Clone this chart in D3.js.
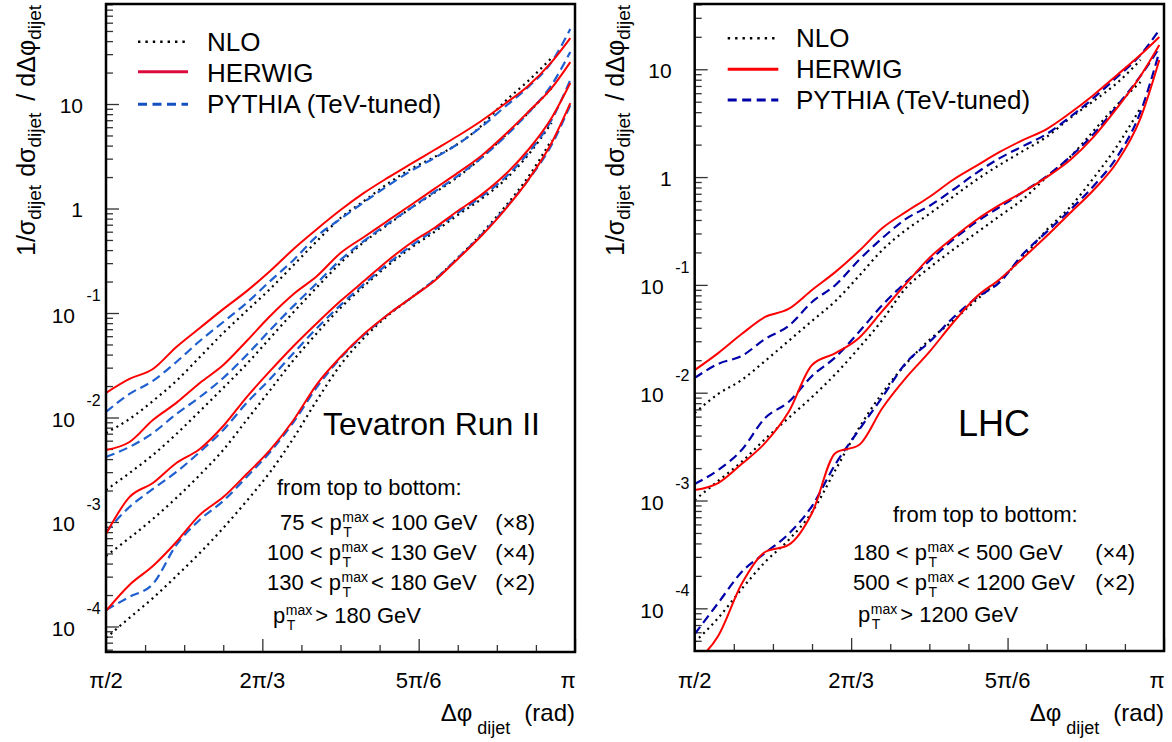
<!DOCTYPE html>
<html><head><meta charset="utf-8">
<script src="https://cdn.jsdelivr.net/npm/d3@7"></script>
<style>
body{margin:0;background:#fff}
svg{display:block}
text{font-family:"Liberation Sans",Arial,Helvetica,sans-serif;fill:#000}
</style>
</head><body>
<svg id="c" width="1172" height="742"></svg>
<script>
// ---------------- DATA ----------------
// Δφ_dijet sample points, in units of π
const phi = [0.5,0.525,0.55,0.575,0.6,0.625,0.65,0.675,0.7,0.725,0.75,0.775,0.8,0.825,0.85,0.875,0.9,0.925,0.95,0.975,0.995];
const phiNLO = [0.5,0.525,0.55,0.575,0.6,0.625,0.65,0.675,0.7,0.725,0.75,0.775,0.8,0.825,0.85,0.875,0.9,0.925,0.95,0.975];

// Tevatron Run II
const tevHerwig75 = [0.0172,0.0234,0.0291,0.0473,0.0719,0.109,0.162,0.252,0.410,0.637,0.967,1.41,1.96,2.67,3.63,4.94,6.88,10.0,14.9,25.2,42.8];
const tevPythia75 = [0.0113,0.0168,0.0224,0.0340,0.0540,0.0820,0.125,0.202,0.322,0.546,0.794,1.15,1.64,2.29,3.04,4.14,6.03,9.36,14.5,25.2,52.2];
const tevNLO75    = [0.00711,0.00967,0.0144,0.0224,0.0379,0.0644,0.105,0.170,0.288,0.489,0.811,1.18,1.72,2.39,3.11,4.14,6.16,10.5,16.6,27.6];

const tevHerwig100 = [0.00489,0.00583,0.00947,0.0138,0.0214,0.0318,0.0540,0.0936,0.152,0.226,0.375,0.534,0.759,1.08,1.54,2.19,3.18,5.05,8.38,14.2,25.2];
const tevPythia100 = [0.00419,0.00522,0.00711,0.0108,0.0157,0.0239,0.0396,0.0688,0.117,0.194,0.322,0.489,0.711,1.01,1.44,2.05,3.04,4.83,8.20,15.2,31.5];
const tevNLO100    = [0.00202,0.00294,0.00438,0.00695,0.0115,0.0192,0.0325,0.0577,0.102,0.177,0.301,0.478,0.695,1.01,1.41,2.00,3.04,4.94,8.20,14.2];

const tevHerwig130 = [7.68e-4,1.73e-3,2.36e-3,3.67e-3,5.00e-3,8.29e-3,0.0157,0.0279,0.0483,0.0802,0.130,0.202,0.315,0.468,0.651,0.946,1.35,2.09,3.63,7.35,15.9];
const tevPythia130 = [8.02e-4,1.39e-3,2.07e-3,3.01e-3,4.68e-3,7.59e-3,0.0138,0.0234,0.0414,0.0719,0.119,0.189,0.294,0.438,0.623,0.906,1.29,1.96,3.40,7.03,17.0];
const tevNLO130    = [4.73e-4,7.03e-4,1.07e-3,1.70e-3,2.82e-3,4.89e-3,9.47e-3,0.0183,0.0355,0.0644,0.112,0.181,0.282,0.419,0.596,0.867,1.23,1.87,3.25,6.58];

const tevHerwig180 = [1.41e-4,2.50e-4,3.79e-4,6.44e-4,1.17e-3,1.73e-3,2.88e-3,4.89e-3,9.47e-3,0.0209,0.0379,0.0629,0.0957,0.139,0.202,0.329,0.546,0.967,1.87,4.24,10.2];
const tevPythia180 = [1.44e-4,1.92e-4,2.55e-4,6.03e-4,1.05e-3,1.59e-3,2.70e-3,4.68e-3,9.06e-3,0.0196,0.0371,0.0616,0.0957,0.139,0.207,0.336,0.558,0.989,1.87,4.05,9.78];
const tevNLO180    = [7.76e-5,1.21e-4,1.87e-4,3.04e-4,5.05e-4,8.76e-4,1.59e-3,3.01e-3,6.37e-3,0.0147,0.0318,0.0577,0.0936,0.139,0.207,0.336,0.570,1.03,2.00,4.52];

// LHC
const lhcHerwig180 = [0.0162,0.0233,0.0350,0.0504,0.0598,0.0897,0.132,0.206,0.337,0.475,0.654,0.940,1.27,1.71,2.21,2.79,3.93,5.78,8.85,13.6,19.9];
const lhcPythia180 = [0.0137,0.0185,0.0219,0.0315,0.0416,0.0694,0.0998,0.170,0.272,0.409,0.539,0.759,1.09,1.50,1.94,2.51,3.61,5.42,8.48,13.6,23.2];
const lhcNLO180    = [0.00648,0.00973,0.0131,0.0197,0.0302,0.0463,0.0709,0.121,0.211,0.323,0.455,0.654,0.940,1.30,1.75,2.36,3.53,5.08,7.46,12.2];

const lhcHerwig500 = [1.25e-3,1.45e-3,2.18e-3,3.42e-3,6.62e-3,0.0181,0.0233,0.0322,0.0573,0.102,0.178,0.272,0.400,0.551,0.728,1.00,1.44,2.36,4.38,8.67,16.8];
const lhcPythia500 = [1.42e-3,1.92e-3,2.94e-3,5.83e-3,8.20e-3,0.0143,0.0214,0.0366,0.0651,0.106,0.167,0.261,0.383,0.528,0.728,1.02,1.54,2.51,4.57,8.67,15.8];
const lhcNLO500    = [1.01e-3,1.52e-3,2.28e-3,3.72e-3,5.83e-3,9.12e-3,0.0149,0.0260,0.0473,0.0936,0.144,0.211,0.303,0.436,0.626,1.00,1.54,2.68,4.67,7.62];

const lhcHerwig1200 = [3.18e-5,5.53e-5,1.68e-4,3.33e-4,3.87e-4,7.66e-4,2.76e-3,3.27e-3,7.21e-3,0.0137,0.0239,0.0443,0.0772,0.113,0.178,0.284,0.465,0.759,1.38,3.53,12.2];
const lhcPythia1200 = [5.78e-5,1.12e-4,2.17e-4,3.26e-4,4.89e-4,8.89e-4,2.18e-3,4.51e-3,9.12e-3,0.0189,0.0295,0.0493,0.0756,0.106,0.194,0.310,0.495,0.827,1.54,4.02,14.5];
const lhcNLO1200    = [4.87e-5,8.13e-5,1.51e-4,2.69e-4,4.30e-4,7.82e-4,1.92e-3,4.70e-3,9.94e-3,0.0185,0.0308,0.0463,0.0724,0.111,0.182,0.323,0.528,0.981,1.94,4.38];

// axis tick labels
const xTickVals = [0.5, 2/3, 5/6, 1];
const xTickLabels = ["π/2", "2π/3", "5π/6", "π"];
const yDecades = [-4,-3,-2,-1,0,1];

const legendLabels = ["NLO", "HERWIG", "PYTHIA (TeV-tuned)"];

// ---------------- LAYOUT ----------------
const panels = [
  { x0:106, x1:575, y0:4, y1:652, yDom:[5.7e-5, 90.6],
    groups:[[tevNLO75,tevHerwig75,tevPythia75],[tevNLO100,tevHerwig100,tevPythia100],
            [tevNLO130,tevHerwig130,tevPythia130],[tevNLO180,tevHerwig180,tevPythia180]],
    red:"#ff0000", blue:"#1f5fcf", legRed:"#dc0a3c", legBlue:"#1450c0",
    leg:{lx0:138, lx1:188, tx:207, ly:[41.7,71.7,104.3], ty:[50.7,81.7,113]},
    title:{text:"Tevatron Run II", x:323, y:435, size:32},
    notes:{head:{x:277,y:495,t:"from top to bottom:"},
           lines:[{x:280,y:530,pre:"75 < p",post:"< 100 GeV",fac:"(×8)"},
                  {x:267,y:560,pre:"100 < p",post:"< 130 GeV",fac:"(×4)"},
                  {x:267,y:590,pre:"130 < p",post:"< 180 GeV",fac:"(×2)"},
                  {x:273,y:623,pre:"p",post:"> 180 GeV",fac:""}], facX:535}
  },
  { x0:694.7, x1:1164, y0:4, y1:651, yDom:[4.02e-5, 40.3],
    groups:[[lhcNLO180,lhcHerwig180,lhcPythia180],[lhcNLO500,lhcHerwig500,lhcPythia500],
            [lhcNLO1200,lhcHerwig1200,lhcPythia1200]],
    red:"#ff0000", blue:"#0000a8", legRed:"#ff0000", legBlue:"#0000a8",
    leg:{lx0:727.7, lx1:778.3, tx:796, ly:[38.3,69.3,100], ty:[46.7,78.3,109]},
    title:{text:"LHC", x:958, y:436, size:36},
    notes:{head:{x:893,y:522,t:"from top to bottom:"},
           lines:[{x:853,y:560,pre:"180 < p",post:"< 500 GeV",fac:"(×4)"},
                  {x:853,y:590,pre:"500 < p",post:"< 1200 GeV",fac:"(×2)"},
                  {x:858,y:622,pre:"p",post:"> 1200 GeV",fac:""}], facX:1135}
  }
];

const svg = d3.select("#c");

panels.forEach((P, pi) => {
  const xs = d3.scaleLinear().domain([0.5, 1]).range([P.x0, P.x1]);
  const ys = d3.scaleLog().domain(P.yDom).range([P.y1, P.y0]);
  const g = svg.append("g");

  const clipId = "clip" + pi;
  svg.append("clipPath").attr("id", clipId).append("rect")
     .attr("x", P.x0).attr("y", P.y0).attr("width", P.x1 - P.x0).attr("height", P.y1 - P.y0);

  // ticks (inward, ROOT style)
  const minorX = d3.range(0, 13).map(i => 0.5 + i / 24).filter(v => !xTickVals.some(m => Math.abs(m - v) < 1e-6));
  const ax1 = g.append("g").attr("transform", `translate(0,${P.y1})`)
     .call(d3.axisBottom(xs).tickValues(xTickVals).tickSize(-13).tickFormat(""));
  const ax2 = g.append("g").attr("transform", `translate(0,${P.y1})`)
     .call(d3.axisBottom(xs).tickValues(minorX).tickSize(-7).tickFormat(""));
  const majY = yDecades.map(e => Math.pow(10, e));
  const minY = [];
  for (let e = -5; e <= 1; e++) for (let k = 2; k <= 9; k++) {
    const v = k * Math.pow(10, e);
    if (v > P.yDom[0] && v < P.yDom[1]) minY.push(v);
  }
  const ay1 = g.append("g").attr("transform", `translate(${P.x0},0)`)
     .call(d3.axisLeft(ys).tickValues(majY).tickSize(-13).tickFormat(""));
  const ay2 = g.append("g").attr("transform", `translate(${P.x0},0)`)
     .call(d3.axisLeft(ys).tickValues(minY).tickSize(-7).tickFormat(""));
  [ax1, ax2, ay1, ay2].forEach(a => {
    a.select(".domain").remove();
    a.selectAll("line").attr("stroke", "#333").attr("stroke-width", 1.3);
  });

  // x tick labels
  xTickVals.forEach((v, i) => {
    g.append("text").attr("x", xs(v) - (i === 3 ? 7 : 0)).attr("y", 688)
     .attr("text-anchor", "middle").attr("font-size", 22).text(xTickLabels[i]);
  });
  // y tick labels
  yDecades.forEach(e => {
    const yy = ys(Math.pow(10, e));
    if (e === 0 || e === 1) {
      g.append("text").attr("x", P.x0 - 23).attr("y", yy + 8.5).attr("text-anchor", "end")
       .attr("font-size", 21).text(e === 0 ? "1" : "10");
    } else {
      g.append("text").attr("x", P.x0 - 31).attr("y", yy + 9.5).attr("text-anchor", "end")
       .attr("font-size", 21).text("10");
      g.append("text").attr("x", P.x0 - 19.5).attr("y", yy - 12).attr("text-anchor", "start")
       .attr("font-size", 16).text(String(e));
    }
  });

  // curves
  const line = d3.line().x(d => xs(d[0])).y(d => ys(d[1])).curve(d3.curveMonotoneX);
  const cg = g.append("g").attr("clip-path", `url(#${clipId})`);
  P.groups.forEach(grp => {
    const [nlo, her, pyt] = grp;
    cg.append("path").attr("d", line(d3.zip(phiNLO, nlo))).attr("fill", "none")
      .attr("stroke", "#000").attr("stroke-width", 2.2).attr("stroke-dasharray", "2,4");
    cg.append("path").attr("d", line(d3.zip(phi, pyt))).attr("fill", "none")
      .attr("stroke", P.blue).attr("stroke-width", 2.2).attr("stroke-dasharray", "9,5");
    cg.append("path").attr("d", line(d3.zip(phi, her))).attr("fill", "none")
      .attr("stroke", P.red).attr("stroke-width", 2);
  });

  // frame
  g.append("rect").attr("x", P.x0).attr("y", P.y0).attr("width", P.x1 - P.x0).attr("height", P.y1 - P.y0)
   .attr("fill", "none").attr("stroke", "#000").attr("stroke-width", 2.5);

  // legend
  const L = P.leg;
  const styles = [
    {c:"#000", w:2.4, d:"2.4,5"},
    {c:P.legRed, w:3, d:null},
    {c:P.legBlue, w:3, d:"9,5.5"}
  ];
  legendLabels.forEach((lab, i) => {
    const s = styles[i];
    const ln = g.append("line").attr("x1", L.lx0).attr("x2", L.lx1).attr("y1", L.ly[i]).attr("y2", L.ly[i])
      .attr("stroke", s.c).attr("stroke-width", s.w);
    if (s.d) ln.attr("stroke-dasharray", s.d);
    g.append("text").attr("x", L.tx).attr("y", L.ty[i]).attr("font-size", 26).text(lab);
  });

  // title
  g.append("text").attr("x", P.title.x).attr("y", P.title.y).attr("font-size", P.title.size).text(P.title.text);

  // notes
  const N = P.notes;
  g.append("text").attr("x", N.head.x).attr("y", N.head.y).attr("font-size", 22).text(N.head.t);
  N.lines.forEach(l => {
    const t1 = g.append("text").attr("x", l.x).attr("y", l.y).attr("font-size", 22).text(l.pre);
    const px = l.x + t1.node().getComputedTextLength() + 0.5;
    const m = g.append("text").attr("x", px).attr("y", l.y - 8.5).attr("font-size", 14).text("max");
    g.append("text").attr("x", px + 1).attr("y", l.y + 6.5).attr("font-size", 14).text("T");
    const mw = m.node().getComputedTextLength();
    g.append("text").attr("x", px + mw + 3).attr("y", l.y).attr("font-size", 22).text(l.post);
    if (l.fac) g.append("text").attr("x", N.facX).attr("y", l.y).attr("text-anchor", "end")
                .attr("font-size", 22).text(l.fac);
  });

  // axis titles
  const xt = g.append("text").attr("x", P.x1).attr("y", 721).attr("text-anchor", "end").attr("font-size", 24);
  xt.append("tspan").text("Δφ");
  xt.append("tspan").attr("font-size", 18).attr("dx", 5).attr("dy", 13).text("dijet");
  xt.append("tspan").attr("dx", 14).attr("dy", -13).text("(rad)");

  const yt = g.append("text").attr("text-anchor", "end").attr("font-size", 25)
     .attr("transform", `translate(${P.x0 - 71},5) rotate(-90)`);
  yt.append("tspan").text("1/σ");
  yt.append("tspan").attr("font-size", 19).attr("dy", 6).text("dijet");
  yt.append("tspan").attr("dx", 8).attr("dy", -6).text("dσ");
  yt.append("tspan").attr("font-size", 19).attr("dy", 6).text("dijet");
  yt.append("tspan").attr("dx", 12).attr("dy", -6).text("/");
  yt.append("tspan").attr("dx", 7).text("dΔφ");
  yt.append("tspan").attr("font-size", 19).attr("dy", 6).text("dijet");
});
</script>
</body></html>
